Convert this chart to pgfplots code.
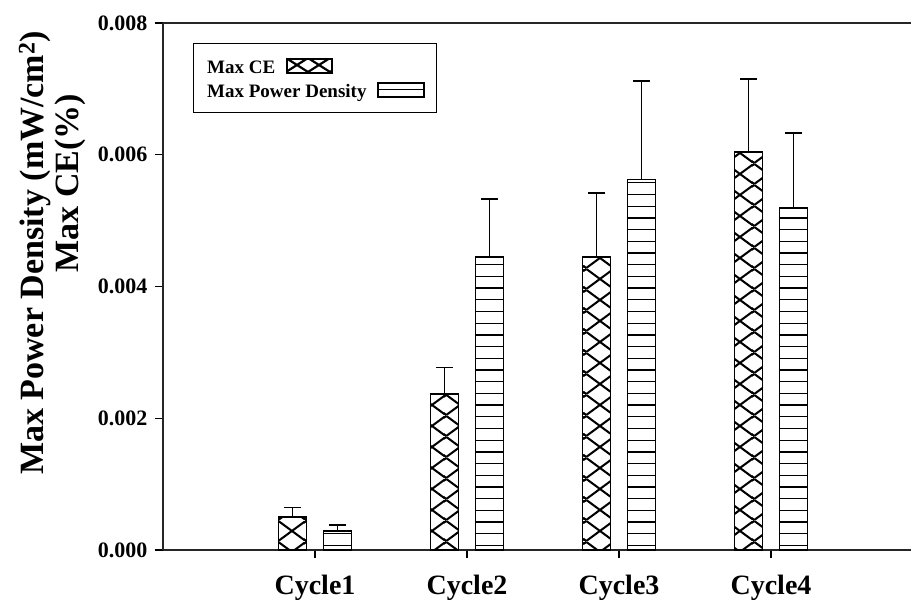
\documentclass[border=0pt]{standalone}
\usepackage{fontspec}
\setmainfont{Liberation Serif}
\usepackage{pgfplots}
\pgfplotsset{compat=1.18}
\usetikzlibrary{patterns}

% diagonal crosshatch: period 27.636 x 21, columns of crossings every 13.818
\pgfdeclarepatternformonly{xcross}{\pgfqpoint{0pt}{0pt}}{\pgfqpoint{27.636pt}{21pt}}{\pgfqpoint{27.636pt}{21pt}}{%
  \pgfsetlinewidth{2.1pt}%
  \pgfpathmoveto{\pgfqpoint{2.32pt}{0pt}}\pgfpathlineto{\pgfqpoint{29.956pt}{21pt}}%
  \pgfpathmoveto{\pgfqpoint{-25.316pt}{0pt}}\pgfpathlineto{\pgfqpoint{2.32pt}{21pt}}%
  \pgfpathmoveto{\pgfqpoint{2.32pt}{21pt}}\pgfpathlineto{\pgfqpoint{29.956pt}{0pt}}%
  \pgfpathmoveto{\pgfqpoint{-25.316pt}{21pt}}\pgfpathlineto{\pgfqpoint{2.32pt}{0pt}}%
  \pgfusepath{stroke}}
\pgfdeclarepatternformonly{xcrossL}{\pgfqpoint{-2pt}{-2pt}}{\pgfqpoint{24pt}{16pt}}{\pgfqpoint{22pt}{14pt}}{%
  \pgfsetlinewidth{2.2pt}%
  \pgfpathmoveto{\pgfqpoint{0pt}{0pt}}\pgfpathlineto{\pgfqpoint{22pt}{14pt}}%
  \pgfpathmoveto{\pgfqpoint{0pt}{14pt}}\pgfpathlineto{\pgfqpoint{22pt}{0pt}}%
  \pgfusepath{stroke}}
\pgfdeclarepatternformonly{hl}{\pgfqpoint{-1pt}{-1pt}}{\pgfqpoint{11pt}{1pt}}{\pgfqpoint{10pt}{11.7pt}}{%
  \pgfsetlinewidth{1.3pt}%
  \pgfpathmoveto{\pgfqpoint{-1pt}{0pt}}\pgfpathlineto{\pgfqpoint{11pt}{0pt}}%
  \pgfusepath{stroke}}

\begin{document}
\begin{tikzpicture}
\begin{axis}[
  scale only axis, width=748pt, height=527pt,
  xmin=0, xmax=4.921, ymin=0, ymax=0.008,
  ybar=17pt, bar width=28pt,
  axis x line*=box, axis y line*=left,
  axis line style={-, line width=1.3pt, black!85},
  xtick={1,2,3,4}, xticklabels={Cycle1,Cycle2,Cycle3,Cycle4},
  ytick={0,0.002,0.004,0.006,0.008},
  yticklabels={0.000,0.002,0.004,0.006,0.008},
  scaled y ticks=false,
  tick align=outside, xtick pos=bottom, ytick pos=left,
  major tick length=8pt, tick style={line width=1.2pt, black},
  yticklabel style={font=\fontsize{22}{26}\selectfont\bfseries, xshift=-4pt},
  xticklabel style={font=\fontsize{28}{32}\selectfont\bfseries, yshift=-14pt},
  clip=false,
]
\addplot[draw=black, line width=1.3pt, pattern=xcross,
  error bars/.cd, y dir=plus, y explicit, error mark=|,
  error bar style={line width=1.3pt, black, solid},
  error mark options={line width=1.3pt, mark size=8.5pt, black}]
  coordinates {(1,0.00050) +- (0,0.00014)
               (2,0.00237) +- (0,0.00040)
               (3,0.00445) +- (0,0.00097)
               (4,0.00604) +- (0,0.00111)};
\addplot[draw=black, line width=1.3pt, pattern=hl,
  error bars/.cd, y dir=plus, y explicit, error mark=|,
  error bar style={line width=1.3pt, black, solid},
  error mark options={line width=1.3pt, mark size=8.5pt, black}]
  coordinates {(1,0.000288) +- (0,0.00009)
               (2,0.00445) +- (0,0.00088)
               (3,0.00562) +- (0,0.00150)
               (4,0.00519) +- (0,0.00114)};
\end{axis}
% legend
\draw[line width=1pt] (31pt,437pt) rectangle (273pt,506pt);
\node[anchor=west, font=\fontsize{19}{22}\selectfont\bfseries, inner sep=0pt] at (44pt,483pt) {Max CE};
\draw[line width=1.3pt, pattern=xcrossL] (124pt,477pt) rectangle (169pt,491pt);
\node[anchor=west, font=\fontsize{19}{22}\selectfont\bfseries, inner sep=0pt] at (44pt,457pt) {Max Power Density};
\draw[line width=1.3pt, pattern=hl] (215pt,453pt) rectangle (261pt,467pt);
% y labels
\node[rotate=90, font=\fontsize{34}{40}\selectfont\bfseries, inner sep=0pt] at (-128pt,297pt) {Max Power Density (mW/cm\textsuperscript{2})};
\node[rotate=90, font=\fontsize{34}{40}\selectfont\bfseries, inner sep=0pt] at (-93pt,367pt) {Max CE(\%)};
\pgfresetboundingbox
\path[use as bounding box] (-163pt,-54pt) rectangle (748pt,550pt);
\end{tikzpicture}
\end{document}
